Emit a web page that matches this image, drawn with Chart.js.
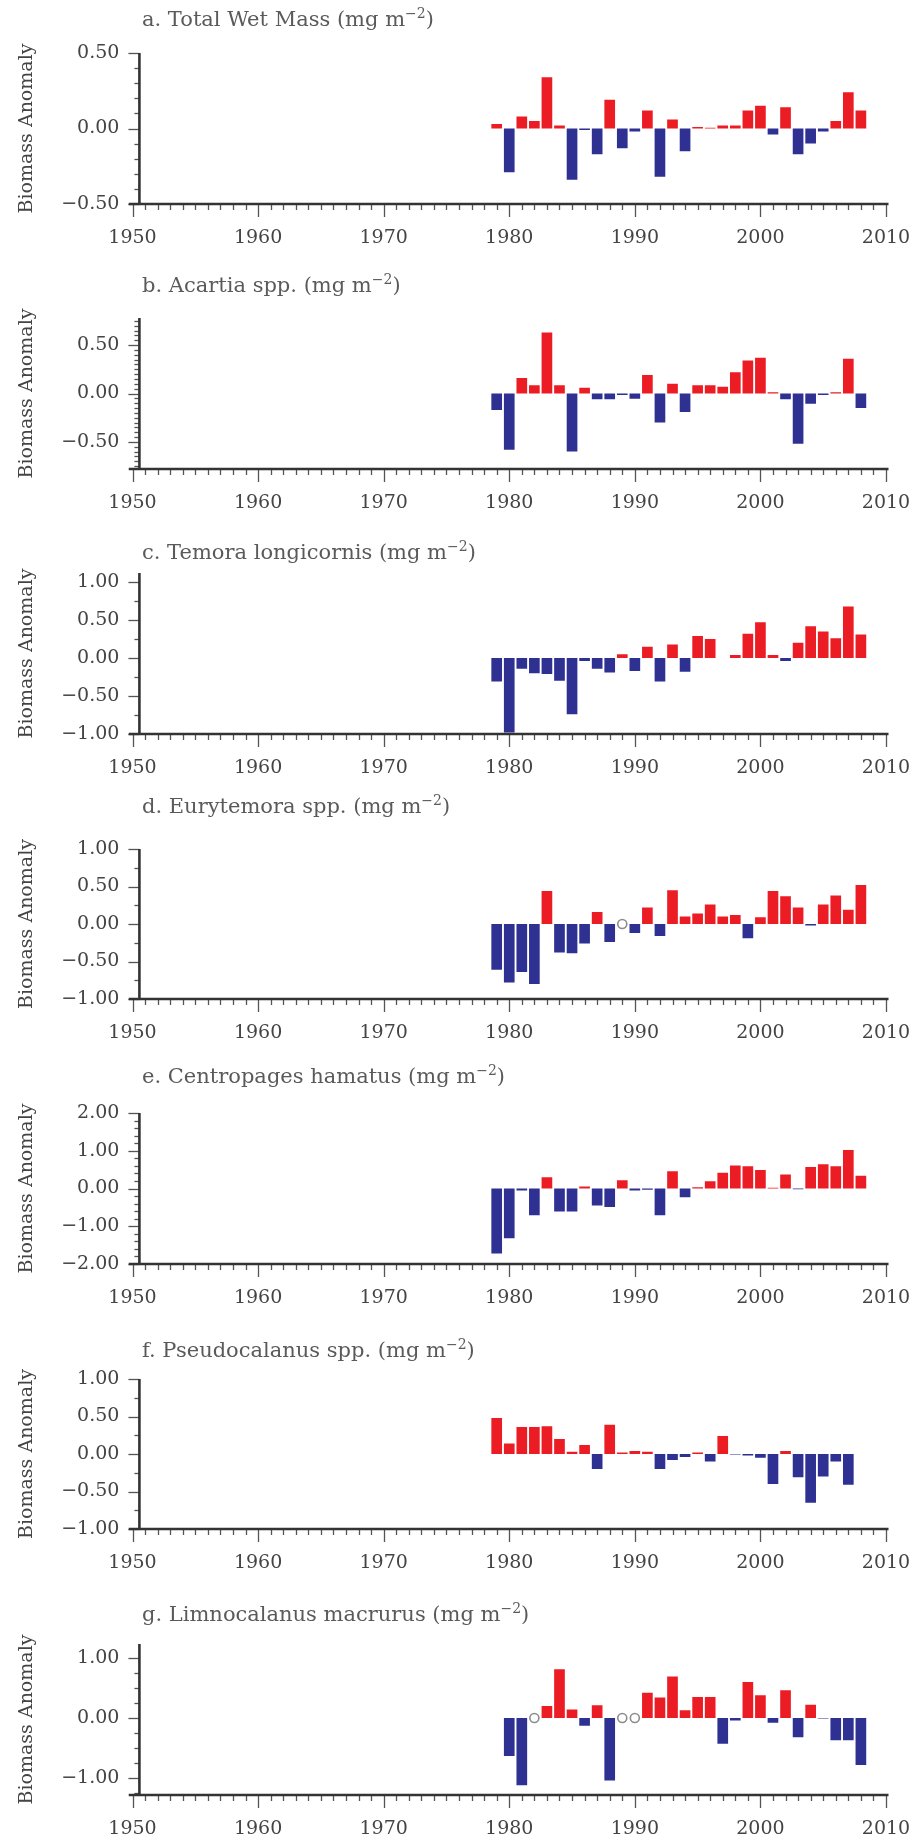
<!DOCTYPE html>
<html>
<head>
<meta charset="utf-8">
<title>Biomass anomalies</title>
<script src="https://cdn.jsdelivr.net/npm/chart.js@4.4.1/dist/chart.umd.min.js"></script>
<style>
  html, body { margin: 0; padding: 0; background: #fff; }
  #wrap { position: relative; width: 918px; height: 1838px; }
  #wrap canvas { position: absolute; left: 0; }
</style>
</head>
<body>
<div id="wrap"></div>
<script>
// survey years (one bar per year)
const years = [1979, 1980, 1981, 1982, 1983, 1984, 1985, 1986, 1987, 1988,
  1989, 1990, 1991, 1992, 1993, 1994, 1995, 1996, 1997, 1998,
  1999, 2000, 2001, 2002, 2003, 2004, 2005, 2006, 2007, 2008];

// anomalies, mg m-2 (null = no sample)
const totalWetMass = [0.03, -0.29, 0.08, 0.05, 0.34, 0.02, -0.34, -0.01, -0.17, 0.19,
  -0.13, -0.02, 0.12, -0.32, 0.06, -0.15, 0.01, 0.005, 0.02, 0.02,
  0.12, 0.15, -0.04, 0.14, -0.17, -0.1, -0.02, 0.05, 0.24, 0.12];
const acartia = [-0.17, -0.58, 0.16, 0.085, 0.63, 0.085, -0.6, 0.06, -0.06, -0.06,
  -0.015, -0.055, 0.19, -0.3, 0.1, -0.19, 0.085, 0.085, 0.07, 0.22,
  0.34, 0.37, 0.012, -0.06, -0.52, -0.105, -0.015, 0.012, 0.36, -0.15];
const temora = [-0.31, -0.98, -0.14, -0.2, -0.21, -0.3, -0.74, -0.04, -0.14, -0.19,
  0.05, -0.17, 0.15, -0.31, 0.18, -0.18, 0.29, 0.25, null, 0.04,
  0.32, 0.47, 0.04, -0.04, 0.2, 0.42, 0.35, 0.26, 0.68, 0.31];
const eurytemora = [-0.61, -0.78, -0.64, -0.8, 0.44, -0.38, -0.39, -0.26, 0.16, -0.24,
  null, -0.12, 0.22, -0.16, 0.45, 0.1, 0.14, 0.26, 0.1, 0.12,
  -0.19, 0.09, 0.44, 0.37, 0.22, -0.02, 0.26, 0.38, 0.19, 0.52];
const centropages = [-1.72, -1.32, -0.05, -0.71, 0.3, -0.61, -0.61, 0.05, -0.45, -0.49,
  0.22, -0.05, -0.03, -0.71, 0.46, -0.23, 0.03, 0.19, 0.42, 0.61,
  0.59, 0.49, 0.02, 0.37, -0.02, 0.57, 0.64, 0.59, 1.02, 0.34];
const pseudocalanus = [0.48, 0.14, 0.36, 0.36, 0.37, 0.2, 0.03, 0.12, -0.2, 0.39,
  0.02, 0.04, 0.03, -0.2, -0.08, -0.04, 0.02, -0.1, 0.24, -0.005,
  -0.02, -0.05, -0.4, 0.04, -0.31, -0.65, -0.3, -0.1, -0.41, null];
const limnocalanus = [null, -0.63, -1.12, null, 0.2, 0.81, 0.14, -0.13, 0.21, -1.04,
  null, null, 0.42, 0.34, 0.69, 0.13, 0.35, 0.35, -0.43, -0.04,
  0.6, 0.38, -0.08, 0.46, -0.32, 0.22, -0.01, -0.37, -0.37, -0.78];

// years marked with an open circle (sampled, value missing)
const eurytemoraGapYears = [1989];
const limnocalanusGapYears = [1982, 1989, 1990];

// axis labels
const yearTicks = [1950, 1960, 1970, 1980, 1990, 2000, 2010];
const ticksHalf = [-0.5, 0, 0.5];
const ticksOne = [-1, -0.5, 0, 0.5, 1];
const ticksTwo = [-2, -1, 0, 1, 2];
const ticksLimno = [-1, 0, 1];

const RED = "#ec1c24";
const BLUE = "#2e3192";
const FONT = '"DejaVu Serif", serif';

// panel layout (page pixels)
const panels = [
  { title: "a. Total Wet Mass", values: totalWetMass, gaps: [], ticks: ticksHalf,
    min: -0.5, max: 0.5, minor: 0.1, top: 53, bottom: 204, titleY: 21 },
  { title: "b. Acartia spp.", values: acartia, gaps: [], ticks: ticksHalf,
    min: -0.78, max: 0.78, minor: 0.05, top: 318, bottom: 469, titleY: 287 },
  { title: "c. Temora longicornis", values: temora, gaps: [], ticks: ticksOne,
    min: -1, max: 1.12, minor: 0.25, top: 573, bottom: 734, titleY: 554 },
  { title: "d. Eurytemora spp.", values: eurytemora, gaps: eurytemoraGapYears, ticks: ticksOne,
    min: -1, max: 1, minor: 0.25, top: 849, bottom: 999, titleY: 808 },
  { title: "e. Centropages hamatus", values: centropages, gaps: [], ticks: ticksTwo,
    min: -2, max: 2, minor: 0.2, top: 1113, bottom: 1264, titleY: 1078 },
  { title: "f. Pseudocalanus spp.", values: pseudocalanus, gaps: [], ticks: ticksOne,
    min: -1, max: 1, minor: 0.25, top: 1379, bottom: 1529, titleY: 1352 },
  { title: "g. Limnocalanus macrurus", values: limnocalanus, gaps: limnocalanusGapYears, ticks: ticksLimno,
    min: -1.28, max: 1.23, minor: 0.25, top: 1644, bottom: 1795, titleY: 1616 },
];

const PLOT_LEFT = 132.5;
const PLOT_RIGHT = 886;

const fmt = (v) => v.toFixed(2).replace("-", "\u2212");

// axes, ticks and labels drawn by hand from the chart's own scales
function panelAxes(p) {
  return {
    id: "panelAxes",
    afterDraw(chart) {
      const { ctx, scales: { x, y } } = chart;
      const axisX = x.getPixelForValue(1950.55);
      const baseY = y.getPixelForValue(y.min);
      ctx.save();

      // y ticks
      ctx.strokeStyle = "#555";
      ctx.lineWidth = 1.3;
      const k0 = Math.ceil(p.min / p.minor - 1e-6);
      const k1 = Math.floor(p.max / p.minor + 1e-6);
      for (let k = k0; k <= k1; k++) {
        const v = k * p.minor;
        const major = p.ticks.some((t) => Math.abs(t - v) < 1e-6);
        const py = Math.round(y.getPixelForValue(v)) + 0.5;
        ctx.beginPath();
        ctx.moveTo(axisX - (major ? 11 : 5), py);
        ctx.lineTo(axisX, py);
        ctx.stroke();
      }

      // x ticks, one per year
      for (let yr = 1950; yr <= 2010; yr++) {
        const px = Math.round(x.getPixelForValue(yr)) + 0.5;
        ctx.beginPath();
        ctx.moveTo(px, baseY);
        ctx.lineTo(px, baseY + (yr % 10 === 0 ? 13 : 6));
        ctx.stroke();
      }

      // axis lines
      ctx.strokeStyle = "#333";
      ctx.lineWidth = 2.6;
      ctx.beginPath();
      ctx.moveTo(axisX, y.top);
      ctx.lineTo(axisX, baseY);
      ctx.stroke();
      ctx.beginPath();
      ctx.moveTo(x.getPixelForValue(1949.7), baseY);
      ctx.lineTo(x.getPixelForValue(2010.2), baseY);
      ctx.stroke();

      // tick labels
      ctx.fillStyle = "#444";
      ctx.font = "19px " + FONT;
      ctx.textAlign = "right";
      ctx.textBaseline = "middle";
      p.ticks.forEach((t) => ctx.fillText(fmt(t), axisX - 20, y.getPixelForValue(t)));
      ctx.textAlign = "center";
      yearTicks.forEach((yr) => ctx.fillText(String(yr), x.getPixelForValue(yr), baseY + 34));

      // y title
      ctx.save();
      ctx.translate(27, (y.top + baseY) / 2);
      ctx.rotate(-Math.PI / 2);
      ctx.fillText("Biomass Anomaly", 0, 0);
      ctx.restore();

      // panel title with superscript unit
      const ty = p.titleY - chart.canvas.offsetTop;
      ctx.fillStyle = "#5a5a5a";
      ctx.textAlign = "left";
      ctx.font = "21px " + FONT;
      let tx = 142;
      const head = p.title + " (mg m";
      ctx.fillText(head, tx, ty);
      tx += ctx.measureText(head).width;
      ctx.font = "14px " + FONT;
      ctx.fillText("\u22122", tx, ty - 7);
      tx += ctx.measureText("\u22122").width;
      ctx.font = "21px " + FONT;
      ctx.fillText(")", tx, ty);

      ctx.restore();
    },
  };
}

const wrap = document.getElementById("wrap");

panels.forEach((p) => {
  const canvasTop = Math.max(0, p.titleY - 22);
  const canvasHeight = p.bottom + 56 - canvasTop;
  const canvas = document.createElement("canvas");
  canvas.width = 918;
  canvas.height = canvasHeight;
  canvas.style.top = canvasTop + "px";
  wrap.appendChild(canvas);

  const bars = years.map((yr, i) => ({ x: yr, y: p.values[i] }));
  const circles = p.gaps.map((yr) => ({ x: yr, y: 0 }));

  new Chart(canvas, {
    type: "bar",
    data: {
      datasets: [
        {
          type: "scatter",
          data: circles,
          order: 0,
          pointRadius: 4.5,
          pointBackgroundColor: "#fff",
          pointBorderColor: "#8c8c8c",
          pointBorderWidth: 1.6,
        },
        {
          data: bars,
          order: 1,
          backgroundColor: (c) => (c.raw && c.raw.y < 0 ? BLUE : RED),
          borderWidth: 0,
          barPercentage: 0.85,
          categoryPercentage: 1,
        },
      ],
    },
    options: {
      responsive: false,
      animation: false,
      events: [],
      layout: {
        padding: {
          left: PLOT_LEFT,
          right: 918 - PLOT_RIGHT,
          top: p.top - canvasTop,
          bottom: canvasTop + canvasHeight - p.bottom,
        },
      },
      scales: {
        x: { type: "linear", min: 1950, max: 2010, offset: false, display: false },
        y: { min: p.min, max: p.max, display: false },
      },
      plugins: {
        legend: { display: false },
        tooltip: { enabled: false },
      },
    },
    plugins: [panelAxes(p)],
  });
});
</script>
</body>
</html>
